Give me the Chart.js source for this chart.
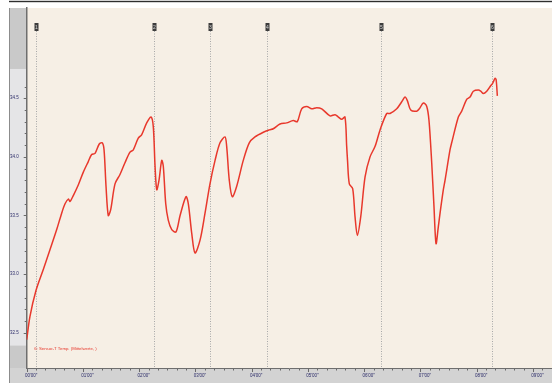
<!DOCTYPE html>
<html>
<head>
<meta charset="utf-8">
<script src="https://cdn.jsdelivr.net/npm/chart.js@4/dist/chart.umd.min.js"></script>
<style>
  html, body { margin: 0; padding: 0; background: #ffffff; }
  #wrap { width: 552px; height: 383px; }
</style>
</head>
<body>
<div id="wrap"><canvas id="c" width="552" height="383"></canvas></div>
<script>
// Sensor temperature log (seconds, °C)
const times = [
  0, 3.5, 9.9, 17.7, 24.9, 32.0, 37.3, 40.9, 44.4, 46.2, 49.7, 55.0, 60.4, 65.7, 69.3, 72.9,
  77.4, 80.6, 82.5, 84.6, 87.0, 89.6, 94.2, 99.5, 104.8, 110.2, 113.7, 119.0, 122.7, 128.0,
  132.6, 135.0, 136.9, 138.7, 141.1, 144.0, 145.7, 148.3, 151.0, 154.7, 159.3, 163.6, 169.9,
  172.4, 176.0, 179.5, 184.9, 190.2, 195.5, 200.9, 206.2, 211.5, 213.3, 216.1, 219.3, 224.0,
  231.0, 237.4, 243.5, 252.4, 258.8, 263.0, 270.2, 277.3, 284.4, 288.6, 293.3, 298.7, 304.0,
  309.3, 314.7, 323.5, 328.9, 332.4, 336.0, 339.5, 341.3, 342.2, 344.1, 347.7, 350.2, 352.7,
  356.3, 360.9, 366.2, 371.6, 376.9, 384.0, 387.5, 394.7, 400.0, 403.5, 406.0, 409.6, 416.0,
  418.8, 423.1, 426.7, 429.1, 432.0, 434.4, 436.6, 439.0, 440.9, 444.4, 446.2, 451.5, 453.3,
  460.4, 464.0, 469.3, 472.9, 476.4, 481.8, 484.3, 487.1, 490.7, 494.3, 497.1, 499.6, 500.7, 502.0
];
const temps = [
  32.44, 32.64, 32.86, 33.04, 33.21, 33.38, 33.52, 33.60, 33.64, 33.62, 33.67, 33.76, 33.87, 33.96, 34.02, 34.03,
  34.11, 34.12, 34.06, 33.75, 33.50, 33.55, 33.77, 33.85, 33.95, 34.04, 34.06, 34.16, 34.19, 34.29,
  34.34, 34.26, 33.92, 33.72, 33.80, 33.97, 33.92, 33.60, 33.46, 33.38, 33.36, 33.50, 33.66,
  33.60, 33.35, 33.18, 33.29, 33.52, 33.77, 33.97, 34.12, 34.17, 34.09, 33.80, 33.66, 33.75,
  33.97, 34.12, 34.17, 34.21, 34.23, 34.24, 34.28, 34.29, 34.31, 34.30, 34.41, 34.43, 34.41,
  34.42, 34.41, 34.35, 34.36, 34.34, 34.32, 34.34, 34.09, 33.97, 33.77, 33.73, 33.49, 33.33,
  33.49, 33.83, 34.00, 34.09, 34.23, 34.37, 34.37, 34.41, 34.47, 34.51, 34.48, 34.40, 34.39,
  34.41, 34.46, 34.43, 34.31, 33.95, 33.58, 33.26, 33.40, 33.52, 33.72, 33.80, 34.06, 34.12,
  34.34, 34.39, 34.49, 34.51, 34.56, 34.57, 34.56, 34.54, 34.56, 34.60, 34.63, 34.67, 34.66, 34.52
];
const seriesLabel = '6: Sensor-T Temp. (Mittelwerte, )';

// Event markers (seconds) and their tags
const markerTimes = [10, 136, 196, 256, 378, 496];
const markerTags = ['1', '2', '3', '4', '5', '6'];

// Axis ticks
const xTickSeconds = [0, 60, 120, 180, 240, 300, 360, 420, 480, 540];
const yTickValues = [32.5, 33.0, 33.5, 34.0, 34.5];
const yMinorTicks = [32.5, 32.6, 32.7, 32.8, 32.9, 33.0, 33.1, 33.2, 33.3, 33.4, 33.5, 33.6, 33.7, 33.8, 33.9,
  34.0, 34.1, 34.2, 34.3, 34.4, 34.5, 34.6];
const yBand = [32.39, 34.75];

const fmtTime = s => {
  const m = Math.floor(s / 60), sec = Math.round(s % 60);
  return String(m).padStart(2, '0') + "'" + String(sec).padStart(2, '0') + '"';
};

const framePlugin = {
  id: 'frame',
  beforeDraw(chart) {
    const { ctx, chartArea: a, scales: { y } } = chart;
    const W = chart.width, H = chart.height;
    const x0 = y.left - 1;
    ctx.save();
    ctx.fillStyle = '#ffffff';
    ctx.fillRect(0, 0, W, H);
    // top rule
    ctx.fillStyle = '#2e2e2e';
    ctx.fillRect(x0, 0.8, W - x0, 1.4);
    // left value strip
    ctx.fillStyle = '#c9c9c9';
    ctx.fillRect(x0, a.top, a.left - x0, a.bottom - a.top);
    const bTop = y.getPixelForValue(yBand[1]), bBot = y.getPixelForValue(yBand[0]);
    ctx.fillStyle = '#e5e5e7';
    ctx.fillRect(x0, bTop, a.left - x0, bBot - bTop);
    // plot background
    ctx.fillStyle = '#f6efe5';
    ctx.fillRect(a.left, a.top, a.right - a.left, a.bottom - a.top);
    // bottom time strip
    ctx.fillStyle = '#d3d3d3';
    ctx.fillRect(x0, a.bottom, W - x0, H - a.bottom);
    // left border
    ctx.fillStyle = '#8c8c8c';
    ctx.fillRect(x0, a.top, 1, H - a.top);
    ctx.restore();
  },
  beforeDatasetsDraw(chart) {
    const { ctx, chartArea: a, scales: { x } } = chart;
    ctx.save();
    markerTimes.forEach((t, i) => {
      const px = Math.round(x.getPixelForValue(t)) + 0.5;
      ctx.strokeStyle = '#a8a8a8';
      ctx.lineWidth = 1;
      ctx.setLineDash([1, 1.5]);
      ctx.beginPath();
      ctx.moveTo(px, 31);
      ctx.lineTo(px, a.bottom);
      ctx.stroke();
      ctx.setLineDash([]);
      ctx.fillStyle = '#3c3c3c';
      ctx.fillRect(px - 2, 23, 4, 8);
      ctx.fillStyle = '#d8d8d8';
      ctx.font = '5px "Liberation Sans"';
      ctx.textAlign = 'center';
      ctx.textBaseline = 'middle';
      ctx.fillText(markerTags[i], px, 27.2);
    });
    ctx.restore();
  },
  afterDraw(chart) {
    const { ctx, chartArea: a, scales: { x, y } } = chart;
    ctx.save();
    ctx.fillStyle = '#6a6a6a';
    // y minor / major tick marks
    yMinorTicks.forEach(v => {
      const py = Math.round(y.getPixelForValue(v));
      const major = yTickValues.some(t => Math.abs(t - v) < 1e-6);
      const len = major ? 3 : 2;
      ctx.fillRect(a.left - len, py, len, 1);
    });
    // x tick marks every 10 s
    for (let s = 0; s <= 560; s += 10) {
      const px = Math.round(x.getPixelForValue(s));
      if (px > a.right) break;
      const major = s % 60 === 0;
      ctx.fillRect(px, a.bottom + 1, 1, major ? 3 : 1.5);
    }
    // series caption
    ctx.fillStyle = '#e8382c';
    ctx.font = '4.3px "Liberation Sans"';
    ctx.textAlign = 'left';
    ctx.textBaseline = 'middle';
    ctx.fillText(chart.data.datasets[0].label, a.left + 7.5, 348.5);
    ctx.restore();
  }
};

new Chart(document.getElementById('c'), {
  type: 'line',
  data: {
    datasets: [{
      label: seriesLabel,
      data: times.map((t, i) => ({ x: t, y: temps[i] })),
      borderColor: '#e8382c',
      borderWidth: 1.5,
      pointRadius: 0,
      tension: 0.3,
      fill: false
    }]
  },
  options: {
    responsive: false,
    animation: false,
    devicePixelRatio: 1,
    layout: { padding: { left: 10, right: 0, top: 8, bottom: 0 } },
    plugins: { legend: { display: false }, tooltip: { enabled: false } },
    scales: {
      x: {
        type: 'linear',
        min: 0,
        max: 560.3,
        afterFit(s) { s.height = 15; },
        afterBuildTicks(s) { s.ticks = xTickSeconds.map(v => ({ value: v })); },
        grid: { display: false, drawTicks: false },
        border: { display: true, color: '#6e6e6e', width: 1 },
        ticks: {
          autoSkip: false,
          maxRotation: 0,
          labelOffset: 4.5,
          padding: 5,
          color: '#2c2c6a',
          font: { family: 'Liberation Sans', size: 4.5 },
          callback: v => fmtTime(v)
        }
      },
      y: {
        type: 'linear',
        min: 32.199,
        max: 35.27,
        afterFit(s) { s.width = 16.7; },
        afterBuildTicks(s) { s.ticks = yTickValues.map(v => ({ value: v })); },
        grid: { display: false, drawTicks: false },
        border: { display: true, color: '#6e6e6e', width: 1.5 },
        ticks: {
          autoSkip: false,
          crossAlign: 'far',
          padding: 0,
          color: '#2c2c6a',
          font: { family: 'Liberation Sans', size: 4.5 },
          callback: v => Number(v).toFixed(1)
        }
      }
    }
  },
  plugins: [framePlugin]
});
</script>
</body>
</html>
